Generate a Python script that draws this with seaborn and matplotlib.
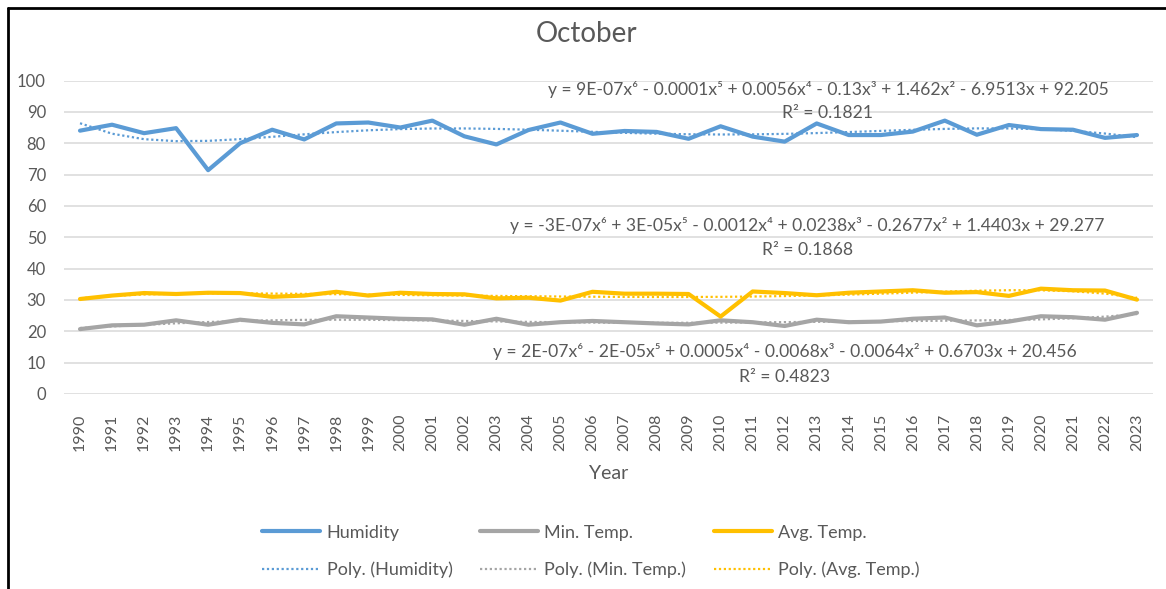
import numpy as np
import pandas as pd
import matplotlib
matplotlib.use("Agg")
import matplotlib.pyplot as plt
import seaborn as sns
from matplotlib.lines import Line2D

years = list(range(1990, 2024))
humidity = [84.0, 85.9, 83.2, 84.8, 71.4, 80.0, 84.3, 81.2, 86.3, 86.6, 85.0, 87.2,
            82.2, 79.6, 84.2, 86.6, 83.0, 83.9, 83.6, 81.4, 85.4, 82.1, 80.5, 86.3,
            82.6, 82.6, 83.7, 87.2, 82.7, 85.8, 84.5, 84.3, 81.7, 82.6]
min_temp = [20.7, 21.9, 22.1, 23.5, 22.1, 23.7, 22.7, 22.2, 24.8, 24.4, 24.0, 23.8,
            22.1, 24.0, 22.1, 22.9, 23.3, 22.9, 22.5, 22.2, 23.5, 22.9, 21.7, 23.7,
            22.9, 23.1, 24.0, 24.4, 21.9, 23.1, 24.8, 24.5, 23.7, 25.9]
avg_temp = [30.3, 31.4, 32.2, 31.9, 32.3, 32.2, 31.0, 31.4, 32.6, 31.4, 32.3, 31.9,
            31.8, 30.5, 30.7, 29.8, 32.6, 32.0, 32.0, 31.9, 24.7, 32.7, 32.2, 31.5,
            32.3, 32.7, 33.1, 32.3, 32.5, 31.3, 33.6, 33.1, 33.0, 30.1]

series_names = ["Humidity", "Min. Temp.", "Avg. Temp."]
series_colors = ["#5B9BD5", "#A5A5A5", "#FFC000"]
equations = [
    "y = 9E-07x⁶ - 0.0001x⁵ + 0.0056x⁴ - 0.13x³ + 1.462x² - 6.9513x + 92.205",
    "y = 2E-07x⁶ - 2E-05x⁵ + 0.0005x⁴ - 0.0068x³ - 0.0064x² + 0.6703x + 20.456",
    "y = -3E-07x⁶ + 3E-05x⁵ - 0.0012x⁴ + 0.0238x³ - 0.2677x² + 1.4403x + 29.277",
]
r_squared = ["R² = 0.1821", "R² = 0.4823", "R² = 0.1868"]
# label anchor (year, value) for each equation block
eq_pos = [(2013.35, 97.0, 89.5), (2012.0, 13.7, 5.4), (2012.7, 53.7, 46.0)]

sns.set_theme(style="white")
fonts = ["Lato", "DejaVu Sans"]
plt.rcParams["font.family"] = fonts
txt = "#595959"

df = pd.DataFrame({"Year": years, "Humidity": humidity,
                   "Min. Temp.": min_temp, "Avg. Temp.": avg_temp})

fig = plt.figure(figsize=(11.66, 5.89), dpi=100)
ax = fig.add_axes([64 / 1166, 1 - 394 / 589, (1153 - 64) / 1166, (394 - 80.5) / 589])

xi = np.arange(1, len(years) + 1)
dots = (0, (1, 1.2))
handles = []
for name, col in zip(series_names, series_colors):
    sns.lineplot(data=df, x="Year", y=name, color=col, linewidth=3, ax=ax,
                 solid_capstyle="round", zorder=3)
    # 6th order polynomial trend, as in the Excel chart (x = 1..n)
    coef = np.polyfit(xi, df[name].values, 6)
    trend = np.polyval(coef, xi)
    sns.lineplot(x=years, y=trend, color=col, linewidth=1.6, linestyle=dots,
                 ax=ax, zorder=2)
    handles.append(Line2D([], [], color=col, linewidth=3, solid_capstyle="round", label=name))
    handles.append(Line2D([], [], color=col, linewidth=1.6, linestyle=dots,
                          label=f"Poly. ({name})"))

for eq, r2, (xp, y1, y2) in zip(equations, r_squared, eq_pos):
    ax.text(xp, y1, eq, ha="center", va="center", fontsize=12.6, color=txt, family=fonts)
    ax.text(xp, y2, r2, ha="center", va="center", fontsize=12.6, color=txt, family=fonts)

ax.set_xlim(1989.5, 2023.5)
ax.set_ylim(0, 100)
ax.set_yticks(range(0, 101, 10))
ax.set_xticks(years)
ax.set_xticklabels([str(y) for y in years], rotation=90)
ax.tick_params(axis="y", length=0, pad=13, labelsize=12, labelcolor=txt)
ax.tick_params(axis="x", length=0, pad=14, labelsize=11.5, labelcolor=txt)
ax.grid(axis="y", color="#D9D9D9", linewidth=1.1)
ax.set_axisbelow(True)
for s in ax.spines.values():
    s.set_visible(False)
ax.set_ylabel("")
ax.set_xlabel("Year", fontsize=14, color=txt, labelpad=10)
fig.text(587 / 1166, 1 - 34 / 589, "October", fontsize=20, color=txt,
         ha="center", va="center", family=fonts)

fig.legend(handles=handles, ncol=3, loc="center", bbox_to_anchor=(0.507, 0.064),
           frameon=False, fontsize=13, labelcolor=txt, handlelength=3.2,
           columnspacing=1.55, labelspacing=1.15, handletextpad=0.35)

# screenshot frame (left and top edge)
fig.add_artist(Line2D([7.5 / 1166, 7.5 / 1166], [0, 1 - 7.5 / 589], color="black",
                      linewidth=2, transform=fig.transFigure))
fig.add_artist(Line2D([7.5 / 1166, 1], [1 - 7.5 / 589, 1 - 7.5 / 589], color="black",
                      linewidth=2, transform=fig.transFigure))

fig.savefig("out.png", dpi=100)
